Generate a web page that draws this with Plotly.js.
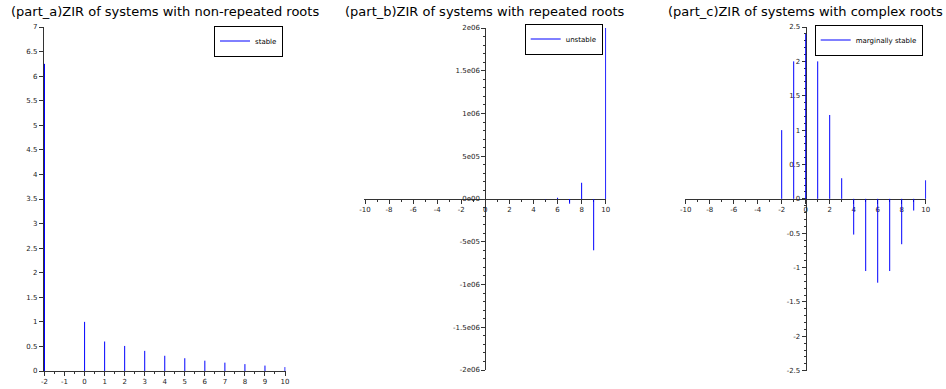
<!DOCTYPE html>
<html>
<head>
<meta charset="utf-8">
<script src="https://cdn.plot.ly/plotly-3.0.1.min.js"></script>
<style>html,body{margin:0;padding:0;background:#fff;}#plot{width:946px;height:389px;}</style>
</head>
<body>
<div id="plot"></div>
<script>
// ---- data ----
const titles = [
  "(part_a)ZIR of systems with non-repeated roots",
  "(part_b)ZIR of systems with repeated roots",
  "(part_c)ZIR of systems with complex roots"
];
const legendNames = ["stable", "unstable", "marginally stable"];

const nA = [-2, -1, 0, 1, 2, 3, 4, 5, 6, 7, 8, 9, 10];
const yA = [6.25, 0, 1, 0.6, 0.51, 0.41, 0.31, 0.26, 0.21, 0.17, 0.14, 0.11, 0.08];

const nB = [0, 1, 2, 3, 4, 5, 6, 7, 8, 9, 10];
const yB = [1, -10, 50, -250, 1100, -4100, 14600, -55000, 190000, -600000, 2000000];

const nC = [-2, -1, 0, 1, 2, 3, 4, 5, 6, 7, 8, 9, 10];
const yC = [1, 2, 2.4, 2, 1.22, 0.3, -0.52, -1.05, -1.22, -1.05, -0.66, -0.17, 0.27];

const xTickValsA = [-2, -1, 0, 1, 2, 3, 4, 5, 6, 7, 8, 9, 10];
const xTickTextA = ["-2", "-1", "0", "1", "2", "3", "4", "5", "6", "7", "8", "9", "10"];
const xTickValsBC = [-10, -8, -6, -4, -2, 0, 2, 4, 6, 8, 10];
const xTickTextBC = ["-10", "-8", "-6", "-4", "-2", "0", "2", "4", "6", "8", "10"];
const yTickValsA = [0, 0.5, 1, 1.5, 2, 2.5, 3, 3.5, 4, 4.5, 5, 5.5, 6, 6.5, 7];
const yTickTextA = ["0", "0.5", "1", "1.5", "2", "2.5", "3", "3.5", "4", "4.5", "5", "5.5", "6", "6.5", "7"];
const yTickValsB = [-2e6, -1.5e6, -1e6, -5e5, 0, 5e5, 1e6, 1.5e6, 2e6];
const yTickTextB = ["-2e06", "-1.5e06", "-1e06", "-5e05", "0e00", "5e05", "1e06", "1.5e06", "2e06"];
const yTickValsC = [-2.5, -2, -1.5, -1, -0.5, 0, 0.5, 1, 1.5, 2, 2.5];
const yTickTextC = ["-2.5", "-2", "-1.5", "-1", "-0.5", "0", "0.5", "1", "1.5", "2", "2.5"];

// ---- helpers ----
function stems(n, v) {
  const x = [], y = [];
  for (let i = 0; i < n.length; i++) { x.push(n[i], n[i], null); y.push(0, v[i], null); }
  return {x, y};
}
const W = 946, H = 389;
// horizontal scale with a small pad so edge stems are not clipped
function hscale(p0, p1, r0, r1, padPx) {
  const ppu = (p1 - p0) / (r1 - r0);
  const pad = padPx / ppu;
  return {
    domain: [(p0 - padPx) / W, (p1 + padPx) / W],
    range: [r0 - pad, r1 + pad],
    at: v => (p0 + (v - r0) * ppu) / W
  };
}
function vscale(top, bottom, r0, r1) {
  return {
    domain: [(H - bottom) / H, (H - top) / H],
    range: [r0, r1],
    at: v => (H - (bottom - (v - r0) * (bottom - top) / (r1 - r0))) / H
  };
}

const blue = "#0000ff";
const sA = stems(nA, yA), sB = stems(nB, yB), sC = stems(nC, yC);
const traces = [
  {x: sA.x, y: sA.y, mode: "lines", line: {color: blue, width: 1}, name: legendNames[0], xaxis: "x", yaxis: "y", legend: "legend", hoverinfo: "skip"},
  {x: sB.x, y: sB.y, mode: "lines", line: {color: blue, width: 1}, name: legendNames[1], xaxis: "x2", yaxis: "y2", legend: "legend2", hoverinfo: "skip"},
  {x: sC.x, y: sC.y, mode: "lines", line: {color: blue, width: 1}, name: legendNames[2], xaxis: "x3", yaxis: "y3", legend: "legend3", hoverinfo: "skip"}
];

const axCol = "#333333";
const tickFont = {family: "DejaVu Sans", size: 7, color: "#222"};
function baseAxis(extra) {
  return Object.assign({
    showgrid: false, zeroline: false, showline: true, linecolor: axCol, linewidth: 1,
    ticks: "outside", ticklen: 4, tickcolor: axCol, tickwidth: 1,
    tickfont: tickFont, layer: "below traces", fixedrange: true, tickmode: "array"
  }, extra);
}

const hA = hscale(44.5, 285, -2, 10, 0.6), vA = vscale(27, 371, 0, 7);
const hB = hscale(365, 605.7, -10, 10, 0.6), vB = vscale(28, 370, -2e6, 2e6);
const hC = hscale(685.7, 925.7, -10, 10, 0.6), vC = vscale(27, 370.7, -2.5, 2.5);
const mid = d => (d[0] + d[1]) / 2;

const legendStyle = {xanchor: "right", yanchor: "middle", bgcolor: "#fff",
  bordercolor: "#000", borderwidth: 1, font: {family: "DejaVu Sans", size: 7, color: "#000"}, itemwidth: 30};
const titleFont = {family: "DejaVu Sans", size: 13, color: "#000"};

const layout = {
  width: W, height: H,
  margin: {l: 0, r: 0, t: 0, b: 0},
  paper_bgcolor: "#fff", plot_bgcolor: "rgba(0,0,0,0)",
  font: {family: "DejaVu Sans"},
  xaxis: baseAxis({domain: hA.domain, anchor: "y", range: hA.range, tickvals: xTickValsA, ticktext: xTickTextA,
    minor: {tickmode: "linear", dtick: 0.5, tick0: 0, ticks: "outside", ticklen: 2, tickcolor: axCol}}),
  yaxis: baseAxis({domain: vA.domain, anchor: "x", range: vA.range, tickvals: yTickValsA, ticktext: yTickTextA}),
  xaxis2: baseAxis({domain: hB.domain, anchor: "free", position: vB.at(0), range: hB.range,
    tickvals: xTickValsBC, ticktext: xTickTextBC,
    minor: {tickmode: "linear", dtick: 1, tick0: 0, ticks: "outside", ticklen: 2, tickcolor: axCol}}),
  yaxis2: baseAxis({domain: vB.domain, anchor: "free", position: hB.at(0), range: vB.range,
    tickvals: yTickValsB, ticktext: yTickTextB,
    minor: {tickmode: "linear", dtick: 1e5, tick0: 0, ticks: "outside", ticklen: 2, tickcolor: axCol}}),
  xaxis3: baseAxis({domain: hC.domain, anchor: "free", position: vC.at(0), range: hC.range,
    tickvals: xTickValsBC, ticktext: xTickTextBC,
    minor: {tickmode: "linear", dtick: 1, tick0: 0, ticks: "outside", ticklen: 2, tickcolor: axCol}}),
  yaxis3: baseAxis({domain: vC.domain, anchor: "free", position: hC.at(0), range: vC.range,
    tickvals: yTickValsC, ticktext: yTickTextC,
    minor: {tickmode: "linear", dtick: 0.1, tick0: 0, ticks: "outside", ticklen: 2, tickcolor: axCol}}),
  showlegend: true,
  legend: Object.assign({x: 283 / W, y: (H - 41) / H}, legendStyle),
  legend2: Object.assign({x: 602.7 / W, y: (H - 39) / H}, legendStyle),
  legend3: Object.assign({x: 922.7 / W, y: (H - 40) / H}, legendStyle),
  annotations: [
    {text: titles[0], xref: "paper", yref: "paper", x: mid(hA.domain), y: (H - 12) / H, xanchor: "center", yanchor: "middle", showarrow: false, font: titleFont},
    {text: titles[1], xref: "paper", yref: "paper", x: mid(hB.domain), y: (H - 12) / H, xanchor: "center", yanchor: "middle", showarrow: false, font: titleFont},
    {text: titles[2], xref: "paper", yref: "paper", x: mid(hC.domain), y: (H - 12) / H, xanchor: "center", yanchor: "middle", showarrow: false, font: titleFont}
  ]
};

Plotly.newPlot("plot", traces, layout, {displayModeBar: false, staticPlot: true});
</script>
</body>
</html>
